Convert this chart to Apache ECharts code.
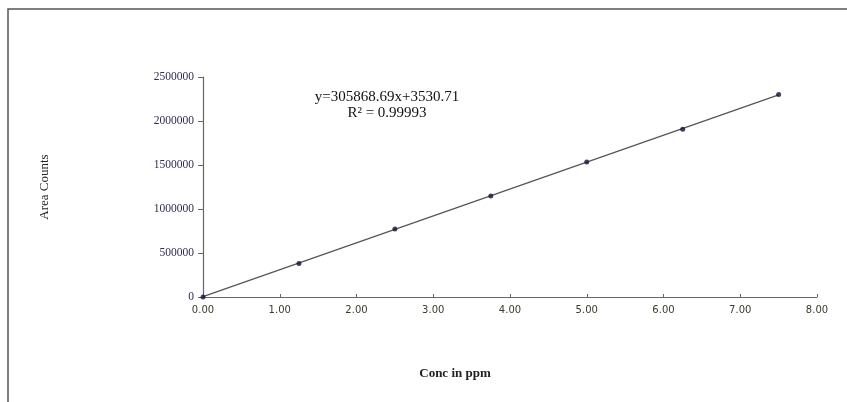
<!DOCTYPE html>
<html>
<head>
<meta charset="utf-8">
<script src="https://cdn.jsdelivr.net/npm/echarts@6/dist/echarts.min.js"></script>
<style>
  html, body { margin: 0; padding: 0; background: #fff; }
  #chart { width: 847px; height: 402px; }
</style>
</head>
<body>
<div id="chart"></div>
<script>
// Calibration standards: concentration (ppm) and measured peak area
const concPpm = [0, 1.25, 2.5, 3.75, 5.0, 6.25, 7.5];
const areaCounts = [0, 380000, 772000, 1148000, 1534000, 1905000, 2300000];

// Least-squares fit shown on the chart
const slope = 305868.69;
const intercept = 3530.71;
const rSquared = '0.99993';
const fitRange = [0, 7.5];

const xTicks = { min: 0, max: 8, interval: 1 };
const yTicks = { min: 0, max: 2500000, interval: 500000 };

const points = concPpm.map((x, i) => [x, areaCounts[i]]);
const fitLine = fitRange.map(x => [x, slope * x + intercept]);

const chart = echarts.init(document.getElementById('chart'), null, { renderer: 'canvas' });

const serif = '"Liberation Serif", "DejaVu Serif", serif';

chart.setOption({
  animation: false,
  backgroundColor: '#ffffff',
  grid: { left: 203, top: 77, right: 30, bottom: 105, containLabel: false },
  xAxis: {
    type: 'value',
    min: xTicks.min, max: xTicks.max, interval: xTicks.interval,
    axisLine: { lineStyle: { color: '#666', width: 1.2 } },
    axisTick: { inside: true, length: 3, lineStyle: { color: '#666' } },
    axisLabel: {
      formatter: v => v.toFixed(2),
      fontFamily: '"DejaVu Sans", sans-serif',
      fontSize: 10, color: '#3c3a28', margin: 8
    },
    splitLine: { show: false }
  },
  yAxis: {
    type: 'value',
    min: yTicks.min, max: yTicks.max, interval: yTicks.interval,
    name: 'Area Counts',
    nameLocation: 'middle',
    nameGap: 152,
    nameRotate: 90,
    nameTextStyle: { fontFamily: serif, fontSize: 13, color: '#222' },
    axisLine: { show: true, lineStyle: { color: '#666', width: 1.2 } },
    axisTick: { show: true, length: 5, lineStyle: { color: '#666' } },
    axisLabel: {
      formatter: v => String(v),
      fontFamily: serif, fontSize: 11.5, color: '#2c2c50', margin: 9
    },
    splitLine: { show: false }
  },
  series: [
    {
      type: 'line',
      data: fitLine,
      symbol: 'none',
      lineStyle: { color: '#555', width: 1.2 },
      z: 2,
      silent: true
    },
    {
      type: 'scatter',
      data: points,
      symbol: 'circle',
      symbolSize: 5,
      itemStyle: { color: '#10143a' },
      z: 3
    }
  ],
  graphic: [
    {
      type: 'rect',
      shape: { x: 8, y: 9, width: 860, height: 420 },
      style: { fill: 'none', stroke: '#555', lineWidth: 1.5 },
      silent: true
    },
    {
      type: 'text',
      x: 387, y: 97,
      style: {
        text: 'y=' + slope.toFixed(2) + 'x+' + intercept.toFixed(2),
        font: '15px ' + serif, fill: '#111',
        align: 'center', verticalAlign: 'middle'
      }
    },
    {
      type: 'text',
      x: 387, y: 113,
      style: {
        text: 'R² = ' + rSquared,
        font: '15px ' + serif, fill: '#111',
        align: 'center', verticalAlign: 'middle'
      }
    },
    {
      type: 'text',
      x: 455, y: 374,
      style: {
        text: 'Conc in ppm',
        font: 'bold 13px ' + serif, fill: '#222',
        align: 'center', verticalAlign: 'middle'
      }
    }
  ]
});
</script>
</body>
</html>
